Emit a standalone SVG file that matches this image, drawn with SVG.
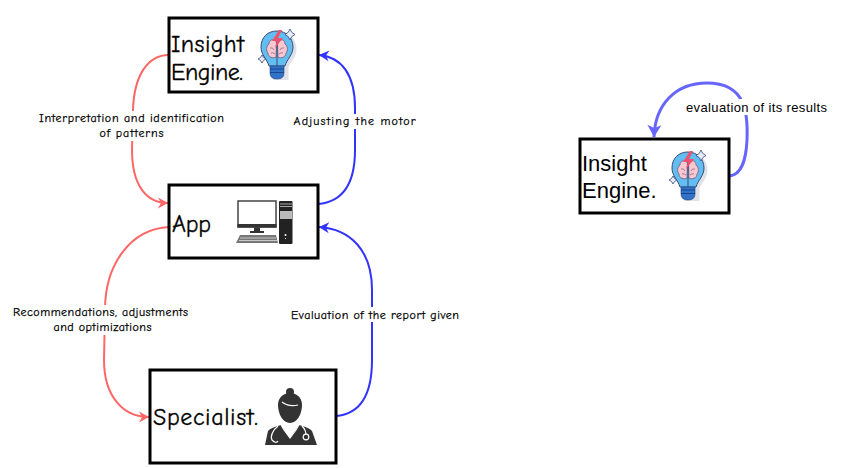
<svg xmlns="http://www.w3.org/2000/svg" width="841" height="468" viewBox="0 0 841 468">
<style>
.box{fill:#fff;stroke:#000;stroke-width:3}
.t{font-family:"Comic Sans MS","Comic Neue","Noto Sans",sans-serif;fill:#000;stroke:#000}
.big{font-size:24px;stroke-width:.3}
.lab{font-size:12px;text-anchor:middle;stroke-width:.25}
.arial{font-family:"Liberation Sans",Arial,sans-serif}
.big2{font-size:22px}
.bg{fill:#fff}
.c{fill:none}
.red{stroke:#ff6666;stroke-width:2}
.blue{stroke:#3333ff;stroke-width:2}
.vio{stroke:#6666ff;stroke-width:3}
</style>
<defs>
<marker id="aRed" markerUnits="userSpaceOnUse" markerWidth="14" markerHeight="14" refX="11" refY="7" orient="auto"><path d="M1 1.500L11 7L1 12.500L4 7Z" fill="#ff6666"/></marker>
<marker id="aBlue" markerUnits="userSpaceOnUse" markerWidth="14" markerHeight="14" refX="11" refY="7" orient="auto"><path d="M1 1.500L11 7L1 12.500L4 7Z" fill="#3333ff"/></marker>
<marker id="aVio" markerUnits="userSpaceOnUse" markerWidth="16" markerHeight="16" refX="13" refY="8" orient="auto"><path d="M1 1L13 8L1 15L4 8Z" fill="#6666ff"/></marker>
<g id="bulb">
<path d="M4 18C4 8 11 2 20 2C30 2 37 9 37 19C37 27 32 31 29 37V50H14V37C10 32 4 27 4 18Z" fill="#dfe2e8" transform="translate(1.500,1)"/>
<path d="M3 18C3 8 10 2 19 2C28 2 35 9 35 18C35 26 29 30 27 37H11C9 30 3 26 3 18Z" fill="#62bdf0" stroke="#3b4a78" stroke-width="1"/>
<path d="M12 37H26V44Q26 50 19 50Q12 50 12 44Z" fill="#2f72c8" stroke="#27407e" stroke-width=".6"/>
<path d="M12 40H26M12 43.500H26" stroke="#123a80" stroke-width=".8"/>
<path d="M18.500 13C15 9 11 11 11 15C8 17 8 22 10 24C10 28 15 30 18 28ZM19.500 13C23 9 27 11 27 15C30 17 30 22 28 24C28 28 23 30 20 28Z" fill="#f8c8d0" stroke="#6a4a6e" stroke-width=".7"/>
<path d="M19 12V37" stroke="#3b4a78" stroke-width="1"/>
<path d="M12 19Q15 18 16 21M26 19Q23 18 22 21M13 24Q15 23 17 25M25 24Q23 23 21 25" fill="none" stroke="#6a4a6e" stroke-width=".6"/>
<path d="M21 1L14 12H19L17 19L25 9H20L24 1Z" fill="#f0506e"/>
<path d="M32 0Q33 4 37 5.500Q33 7 32 11Q31 7 27 5.500Q31 4 32 0Z" fill="#e6edf8" stroke="#3b4a78" stroke-width=".8"/>
<path d="M4 26Q5 29 8 30Q5 31 4 34Q3 31 0 30Q3 29 4 26Z" fill="#e6edf8" stroke="#3b4a78" stroke-width=".8"/>
</g>
</defs>
<g id="connectors" class="c">
<path class="red" d="M169 55C148 55 134 75 133 110L132 150C132 185 146 203 168 203" marker-end="url(#aRed)"/>
<path class="blue" d="M318 204C342 202 355 185 355 150L355 108C355 75 342 57 319 55" marker-end="url(#aBlue)"/>
<path class="red" d="M169 227C130 229 105 265 105 310L104 360C104 395 122 417 149 417" marker-end="url(#aRed)"/>
<path class="blue" d="M336 416C360 414 372 395 372 360L372 290C372 250 350 229 319 227" marker-end="url(#aBlue)"/>
<path class="vio" d="M730 176C742 174 746 160 747 140C748 115 747 83 707 83C675 83 655 105 654 137" marker-end="url(#aVio)"/>
</g>
<g id="node-insight">
<rect class="box" x="169" y="18" width="149" height="74"/>
<text class="t big" x="171" y="52" textLength="73">Insight</text>
<text class="t big" x="171" y="80" textLength="72">Engine.</text>
<use href="#bulb" x="258" y="29"/>
</g>
<g id="node-app">
<rect class="box" x="169" y="185" width="149" height="73"/>
<text class="t big" x="172" y="232" textLength="39">App</text>
<g id="computer">
<rect x="238" y="201" width="38" height="26" fill="#fff" stroke="#444" stroke-width="1.500"/>
<rect x="237.500" y="224" width="39" height="3.500" fill="#333"/>
<path d="M254 227.500H260V231H264V233H250V231H254Z" fill="#333"/>
<path d="M240 235H276L278 243H236Z" fill="#777"/>
<path d="M240 238H276M239 240.500H277" stroke="#eee" stroke-width=".7"/>
<rect x="279" y="201" width="13.500" height="43" rx="1" fill="#222"/>
<path d="M280 204H292M280 206.500H292" stroke="#aaa"/>
<rect x="280" y="211" width="12" height="8" fill="#bbb"/>
<circle cx="285.500" cy="235" r="1" fill="#fff"/><circle cx="285.500" cy="238.500" r=".6" fill="#fff"/>
</g>
</g>
<g id="node-specialist">
<rect class="box" x="150" y="370" width="186" height="93"/>
<text class="t big" x="153" y="425" textLength="105">Specialist.</text>
<g id="doctor" fill="#333">
<circle cx="290" cy="392" r="4"/>
<path d="M278 405C278 397 284 393 290 393C296 393 302 397 302 405C302 414 297 423 290 423C283 423 278 414 278 405Z"/>
<path d="M265 445L268 431Q270 428 281 425L290 438L299 425Q310 428 312 431L317 445Z"/>
<path d="M282 402Q288 407 298 405" stroke="#fff" stroke-width="1.200" fill="none"/>
<path d="M280 423L284 430L290 438L296 430L300 423" stroke="#fff" stroke-width="1.200" fill="none"/>
<path d="M278 426C273 430 270 436 272 440Q276 444 278 441M302 426C305 429 306 432 306 435" stroke="#fff" stroke-width="1.200" fill="none"/>
<circle cx="306" cy="437" r="2.800" fill="#333" stroke="#fff" stroke-width="1.200"/>
</g>
</g>
<g id="node-insight-2">
<rect class="box" x="580" y="139" width="149" height="74"/>
<text class="arial big2" x="582" y="171">Insight</text>
<text class="arial big2" x="582" y="198">Engine.</text>
<use href="#bulb" x="669" y="150"/>
</g>
<g id="labels">
<rect class="bg" x="38" y="111" width="187" height="30"/>
<text class="t lab" x="131.500" y="122" textLength="185">Interpretation and identification</text>
<text class="t lab" x="131.500" y="137" textLength="64">of patterns</text>
<rect class="bg" x="293" y="114" width="123" height="15"/>
<text class="t lab" x="354.500" y="125" textLength="122">Adjusting the motor</text>
<rect class="bg" x="13" y="305" width="176" height="30"/>
<text class="t lab" x="100.500" y="316" textLength="175">Recommendations, adjustments</text>
<text class="t lab" x="102.500" y="331" textLength="98">and optimizations</text>
<rect class="bg" x="291" y="307" width="168" height="15"/>
<text class="t lab" x="375" y="319" textLength="168">Evaluation of the report given</text>
<rect class="bg" x="686" y="99" width="141" height="16"/>
<text class="arial" text-anchor="middle" x="756.500" y="112" font-size="13" textLength="141">evaluation of its results</text>
</g>
</svg>
